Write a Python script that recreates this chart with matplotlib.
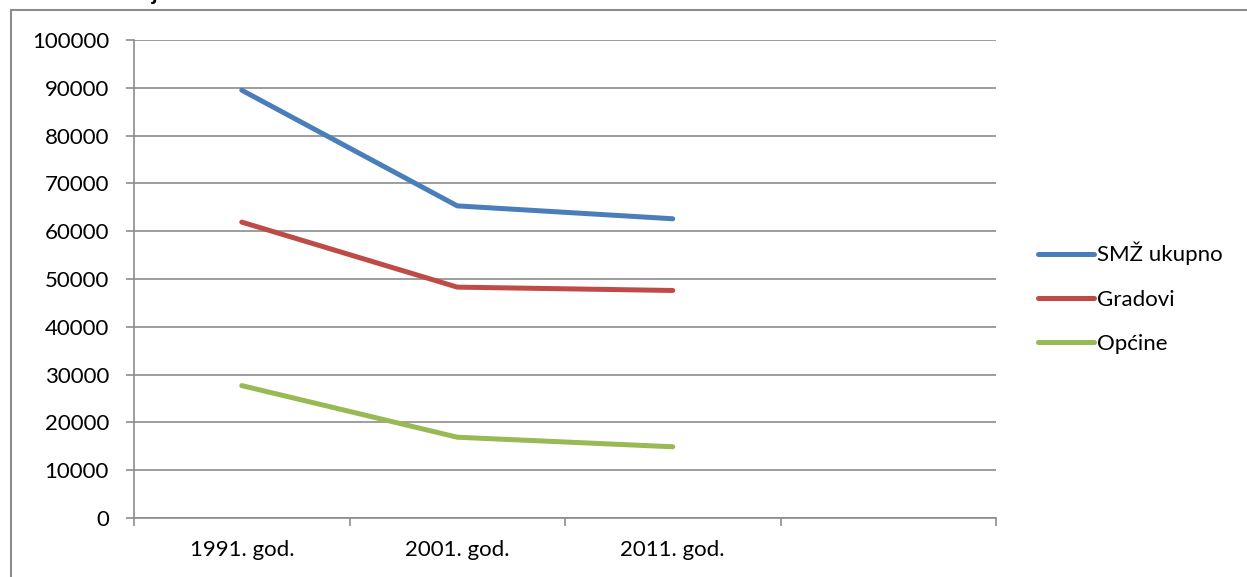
import numpy as np
import matplotlib
matplotlib.use("Agg")
import matplotlib.pyplot as plt
from matplotlib.patches import Rectangle

plt.rcParams["font.family"] = ["Lato", "DejaVu Sans"]

# data
categories = ["1991. god.", "2001. god.", "2011. god.", ""]
smz_ukupno = [89500, 65300, 62600, np.nan]
gradovi = [61900, 48300, 47600, np.nan]
opcine = [27700, 16900, 14900, np.nan]
series_names = ["SMŽ ukupno", "Gradovi", "Općine"]
series_colors = ["#4A7EBB", "#BE4B48", "#98B954"]
y_ticks = list(range(0, 100001, 10000))

W, H = 1247, 577
fig = plt.figure(figsize=(W / 100, H / 100), dpi=100)

# outer chart frame (partly cut off like the source)
fig.patches.append(Rectangle((11 / W, -0.1), 1.2, 1 - 10 / H + 0.1,
                             transform=fig.transFigure, fill=False,
                             edgecolor="#8C8C8C", linewidth=1.5))
# caption above the chart, clipped by the top edge as in the source
fig.text(0.0, 1.0 - 4 / H, "Grafikon 1: Broj stanovnika", fontsize=16,
         fontweight="bold", va="bottom", ha="left")

ax = fig.add_axes([134 / W, (H - 518) / H, (996 - 134) / W, (518 - 40) / H])
x = np.arange(len(categories)) + 0.5
for vals, name, col in zip([smz_ukupno, gradovi, opcine], series_names, series_colors):
    ax.plot(x, vals, color=col, linewidth=3.6, solid_capstyle="round",
            solid_joinstyle="round", label=name)

ax.set_xlim(0, len(categories))
ax.set_ylim(0, 100000)
ax.set_yticks(y_ticks)
ax.set_yticklabels([str(v) for v in y_ticks], fontsize=16)
ax.set_xticks(np.arange(len(categories) + 1))
ax.set_xticklabels([])
ax.set_xticks(x, minor=True)
ax.set_xticklabels(categories, minor=True, fontsize=16)
ax.tick_params(axis="x", which="minor", length=0, pad=16)
ax.tick_params(axis="x", which="major", length=6, color="#8C8C8C", width=1.2)
ax.tick_params(axis="y", length=6, color="#8C8C8C", width=1.2, pad=12)
ax.grid(axis="y", color="#8C8C8C", linewidth=1.2)
ax.set_axisbelow(True)
for side in ["top", "right"]:
    ax.spines[side].set_visible(False)
for side in ["left", "bottom"]:
    ax.spines[side].set_color("#8C8C8C")
    ax.spines[side].set_linewidth(1.2)

ax.legend(loc="center left", bbox_to_anchor=(1018 / W, 1 - 298 / H),
          bbox_transform=fig.transFigure, frameon=False, fontsize=16,
          handlelength=2.5, handletextpad=0.15, labelspacing=1.1)

fig.savefig("out.png", dpi=100, facecolor="white")
